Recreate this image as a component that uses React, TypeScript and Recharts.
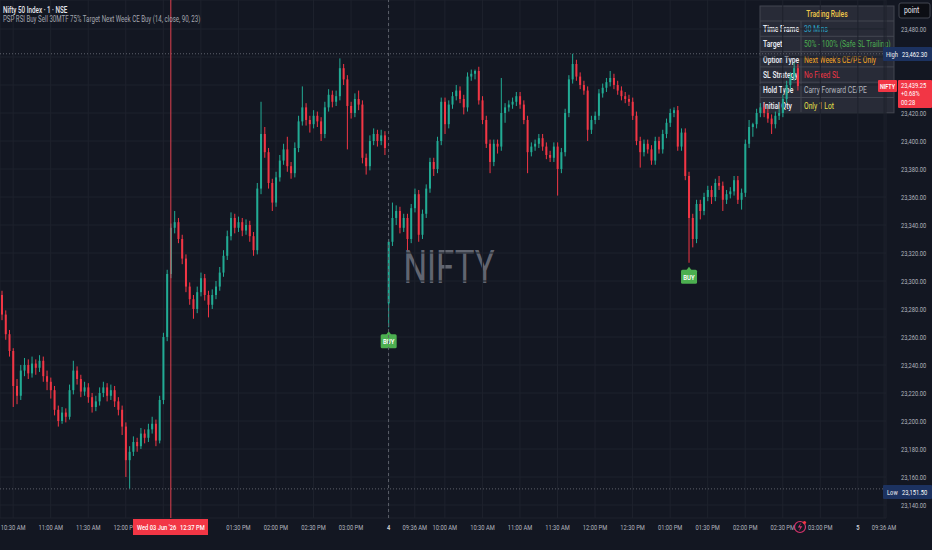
import { ComposedChart, Bar, XAxis, YAxis, CartesianGrid, ReferenceLine } from "recharts";

type Ohlc = [number, number, number, number];

// 3-minute candles, Wed 03 Jun from 10:21
const day3Candles: Ohlc[] = [
  [23290, 23293, 23272, 23276], [23276, 23279, 23258, 23262], [23262, 23265, 23246, 23250], [23250, 23252, 23210, 23225],
  [23225, 23230, 23212, 23218], [23218, 23240, 23215, 23236], [23236, 23245, 23232, 23240], [23240, 23244, 23230, 23234],
  [23234, 23246, 23231, 23241], [23241, 23244, 23233, 23238], [23238, 23247, 23235, 23243], [23243, 23246, 23228, 23232],
  [23232, 23236, 23222, 23228], [23228, 23231, 23216, 23222], [23222, 23225, 23204, 23208], [23208, 23211, 23196, 23200],
  [23200, 23210, 23198, 23206], [23206, 23209, 23199, 23203], [23203, 23226, 23201, 23222], [23222, 23243, 23219, 23236],
  [23236, 23239, 23226, 23230], [23230, 23233, 23217, 23221], [23221, 23228, 23218, 23224], [23224, 23227, 23213, 23217],
  [23217, 23220, 23206, 23210], [23210, 23218, 23207, 23214], [23214, 23224, 23211, 23220], [23220, 23228, 23217, 23224],
  [23224, 23227, 23214, 23218], [23218, 23226, 23215, 23222], [23222, 23225, 23210, 23214], [23214, 23217, 23204, 23208],
  [23208, 23211, 23190, 23196], [23196, 23199, 23160, 23172], [23172, 23182, 23151.5, 23178], [23178, 23189, 23175, 23185],
  [23185, 23188, 23178, 23182], [23182, 23195, 23180, 23191], [23191, 23194, 23184, 23188], [23188, 23198, 23185, 23194],
  [23194, 23203, 23191, 23198], [23198, 23201, 23182, 23186], [23186, 23218, 23184, 23215], [23215, 23263, 23212, 23260],
  [23260, 23308, 23257, 23305], [23305, 23341, 23302, 23338], [23338, 23350, 23334, 23342], [23342, 23345, 23327, 23330],
  [23330, 23333, 23312, 23316], [23316, 23319, 23292, 23296], [23296, 23299, 23283, 23287], [23287, 23290, 23273, 23280],
  [23280, 23296, 23277, 23292], [23292, 23306, 23289, 23302], [23302, 23305, 23286, 23290], [23290, 23293, 23274, 23283],
  [23283, 23294, 23280, 23290], [23290, 23300, 23287, 23296], [23296, 23310, 23293, 23306], [23306, 23322, 23303, 23318],
  [23318, 23336, 23315, 23332], [23332, 23349, 23329, 23345], [23345, 23348, 23334, 23338], [23338, 23346, 23335, 23342],
  [23342, 23345, 23332, 23336], [23336, 23344, 23333, 23340], [23340, 23343, 23328, 23332], [23332, 23335, 23318, 23322],
  [23322, 23370, 23319, 23366], [23366, 23428, 23362, 23405], [23405, 23410, 23388, 23392], [23392, 23395, 23366, 23370],
  [23370, 23373, 23350, 23356], [23356, 23378, 23353, 23374], [23374, 23390, 23371, 23386], [23386, 23398, 23383, 23394],
  [23394, 23403, 23378, 23382], [23382, 23385, 23373, 23377], [23377, 23399, 23374, 23395], [23395, 23418, 23392, 23414],
  [23414, 23439, 23411, 23424], [23424, 23427, 23411, 23415], [23415, 23418, 23406, 23412], [23412, 23422, 23409, 23418],
  [23418, 23421, 23410, 23414], [23414, 23417, 23400, 23405], [23405, 23428, 23402, 23424], [23424, 23437, 23421, 23433],
  [23433, 23436, 23424, 23428], [23428, 23436, 23425, 23432], [23432, 23459, 23429, 23452], [23452, 23455, 23440, 23444],
  [23444, 23447, 23394, 23425], [23425, 23428, 23416, 23420], [23420, 23434, 23417, 23430], [23430, 23436, 23422, 23426],
  [23426, 23429, 23384, 23388], [23388, 23391, 23376, 23382], [23382, 23404, 23379, 23400], [23400, 23409, 23397, 23405],
  [23405, 23408, 23396, 23400], [23400, 23408, 23397, 23404], [23404, 23407, 23390, 23395],
];

// 3-minute candles, Thu 04 Jun from 09:15
const day4Candles: Ohlc[] = [
  [23284, 23330, 23267, 23328], [23328, 23356, 23325, 23345], [23345, 23354, 23340, 23350], [23350, 23353, 23334, 23338],
  [23338, 23348, 23335, 23345], [23345, 23348, 23322, 23330], [23330, 23355, 23327, 23352], [23352, 23366, 23349, 23362],
  [23362, 23365, 23328, 23333], [23333, 23351, 23330, 23348], [23348, 23369, 23345, 23366], [23366, 23388, 23363, 23385],
  [23385, 23388, 23375, 23380], [23380, 23403, 23377, 23400], [23400, 23431, 23397, 23428], [23428, 23431, 23405, 23412],
  [23412, 23429, 23409, 23426], [23426, 23435, 23423, 23432], [23432, 23440, 23429, 23436], [23436, 23439, 23427, 23430],
  [23430, 23433, 23419, 23424], [23424, 23449, 23421, 23446], [23446, 23451, 23443, 23448], [23448, 23451, 23444, 23450],
  [23450, 23453, 23426, 23429], [23429, 23432, 23412, 23415], [23415, 23418, 23395, 23398], [23398, 23401, 23377, 23385],
  [23385, 23401, 23382, 23398], [23398, 23401, 23391, 23396], [23396, 23445, 23393, 23420], [23420, 23427, 23413, 23424],
  [23424, 23429, 23421, 23426], [23426, 23431, 23423, 23428], [23428, 23435, 23425, 23432], [23432, 23435, 23423, 23426],
  [23426, 23429, 23412, 23415], [23415, 23418, 23377, 23392], [23392, 23399, 23389, 23396], [23396, 23401, 23393, 23398],
  [23398, 23405, 23395, 23402], [23402, 23405, 23393, 23396], [23396, 23399, 23387, 23390], [23390, 23393, 23385, 23388],
  [23388, 23399, 23385, 23396], [23396, 23399, 23361, 23380], [23380, 23395, 23377, 23392], [23392, 23423, 23389, 23420],
  [23420, 23447, 23417, 23444], [23444, 23462.3, 23441, 23455], [23455, 23458, 23443, 23446], [23446, 23449, 23437, 23440],
  [23440, 23443, 23433, 23436], [23436, 23439, 23400, 23408], [23408, 23418, 23405, 23415], [23415, 23421, 23412, 23418],
  [23418, 23437, 23415, 23434], [23434, 23441, 23431, 23438], [23438, 23445, 23435, 23442], [23442, 23450, 23439, 23445],
  [23445, 23448, 23437, 23440], [23440, 23443, 23433, 23436], [23436, 23439, 23429, 23432], [23432, 23435, 23427, 23430],
  [23430, 23433, 23425, 23428], [23428, 23431, 23415, 23418], [23418, 23421, 23397, 23400], [23400, 23403, 23381, 23392],
  [23392, 23401, 23389, 23398], [23398, 23401, 23391, 23394], [23394, 23397, 23383, 23386], [23386, 23403, 23383, 23400],
  [23400, 23403, 23391, 23394], [23394, 23408, 23391, 23405], [23405, 23416, 23402, 23413], [23413, 23423, 23410, 23420],
  [23420, 23424, 23417, 23422], [23422, 23425, 23393, 23396], [23396, 23409, 23393, 23406], [23406, 23409, 23372, 23375],
  [23375, 23378, 23313, 23345], [23345, 23348, 23324, 23330], [23330, 23358, 23327, 23355], [23355, 23358, 23344, 23350],
  [23350, 23363, 23347, 23360], [23360, 23368, 23357, 23365], [23365, 23368, 23355, 23360], [23360, 23373, 23357, 23370],
  [23370, 23375, 23365, 23368], [23368, 23371, 23350, 23358], [23358, 23365, 23355, 23362], [23362, 23367, 23359, 23364],
  [23364, 23375, 23361, 23372], [23372, 23375, 23355, 23358], [23358, 23366, 23351, 23363], [23363, 23401, 23360, 23398],
  [23398, 23415, 23395, 23410], [23410, 23413, 23403, 23412], [23412, 23423, 23409, 23420], [23420, 23427, 23417, 23424],
  [23424, 23427, 23417, 23420], [23420, 23423, 23413, 23416], [23416, 23419, 23405, 23412], [23412, 23421, 23409, 23418],
  [23418, 23423, 23415, 23420], [23420, 23433, 23417, 23430], [23430, 23443, 23427, 23440], [23440, 23449, 23437, 23446],
  [23446, 23456, 23443, 23452], [23452, 23455, 23436, 23439.25],
];

const barMinutes = 3;
const day4EmptySlots = 15;
const day5EmptySlots = 8;
const buySignals = ["4-09:15", "4-13:15"];
const crosshairKey = "3-12:36";
const dayBreakKey = "4-09:15";

const xTicks = [
  "3-10:30", "3-11:00", "3-11:30", "3-12:00", "3-12:30", "3-13:00", "3-13:30", "3-14:00", "3-14:30", "3-15:00",
  "4-09:15", "4-09:36", "4-10:00", "4-10:30", "4-11:00", "4-11:30", "4-12:00", "4-12:30", "4-13:00", "4-13:30",
  "4-14:00", "4-14:30", "4-15:00", "5-09:15", "5-09:36",
];
// time labels that sit under the crosshair date box
const hiddenTimeTicks = ["3-12:30", "3-13:00"];
const yTicks = [
  23140, 23160, 23180, 23200, 23220, 23240, 23260, 23280, 23300,
  23320, 23340, 23360, 23380, 23400, 23420, 23440, 23460, 23480,
];
// price labels that sit under the High / last-price boxes
const hiddenPriceTicks = [23440, 23460];
const rangeHigh = 23462.3;
const rangeLow = 23151.5;
const lastPrice = "23,439.25";
const lastChange = "+0.68%";
const countdown = "00:28";

const tableTitle = "Trading Rules";
const tableRows: [string, string, string][] = [
  ["Time Frame", "30 Mins", "#2aa7c9"],
  ["Target", "50% - 100% (Safe SL Trailing)", "#4caf50"],
  ["Option Type", "Next Week's CE/PE Only", "#f5a623"],
  ["SL Strategy", "No Fixed SL", "#f23645"],
  ["Hold Type", "Carry Forward CE/PE", "#b2b5be"],
  ["Initial Qty", "Only 1 Lot", "#e8e04a"],
];

const FONT = "Roboto, 'Noto Sans', sans-serif";
const BG = "#131722";
const UP = "#22ab94";
const DOWN = "#f23645";

const pad = (n: number) => String(n).padStart(2, "0");
const keyOf = (day: number, min: number) => `${day}-${pad(Math.floor(min / 60))}:${pad(min % 60)}`;

const rows: any[] = [];
const addDay = (day: number, start: number, candles: Ohlc[], empty: number) => {
  candles.forEach(([o, h, l, c], i) => {
    const key = keyOf(day, start + i * barMinutes);
    rows.push({ key, o, h, l, c, range: [l, h], buy: buySignals.includes(key) });
  });
  for (let j = 0; j < empty; j++) {
    rows.push({ key: keyOf(day, start + (candles.length + j) * barMinutes) });
  }
};
addDay(3, 10 * 60 + 21, day3Candles, 0);
addDay(4, 9 * 60 + 15, day4Candles, day4EmptySlots);
addDay(5, 9 * 60 + 15, [], day5EmptySlots);

const timeLabel = (key: string) => {
  const [d, t] = key.split("-");
  if (t === "09:15") return d;
  const [hh, mm] = t.split(":").map(Number);
  const h12 = hh > 12 ? hh - 12 : hh;
  return `${pad(h12)}:${pad(mm)} ${hh >= 12 ? "PM" : "AM"}`;
};

const Txt = ({ x, y, size = 8, fill = "#d1d4dc", weight = 400, anchor = "start", sx = 0.72, children }: any) => (
  <g transform={`translate(${x} ${y}) scale(${sx} 1)`}>
    <text fontSize={size} fill={fill} fontWeight={weight} textAnchor={anchor} fontFamily={FONT}>
      {children}
    </text>
  </g>
);

const TimeTick = ({ x, payload }: any) => {
  if (hiddenTimeTicks.includes(payload.value)) return <g />;
  const label = timeLabel(payload.value);
  const dayMark = label.length === 1;
  return <Txt x={x} y={530} anchor="middle" fill={dayMark ? "#d1d4dc" : "#b2b5be"} weight={dayMark ? 600 : 400}>{label}</Txt>;
};

const PriceTick = ({ y, payload }: any) => {
  if (hiddenPriceTicks.includes(payload.value)) return <g />;
  return (
    <Txt x={901} y={y + 3} fill="#b2b5be">
      {Number(payload.value).toLocaleString("en-US", { minimumFractionDigits: 2 })}
    </Txt>
  );
};

const Candle = (props: any) => {
  const { x, y, width, height, payload } = props;
  if (!payload || payload.o === undefined) return null;
  const { o, h, l, c, buy } = payload;
  const top = Math.min(y, y + height);
  const span = Math.abs(height);
  const k = h > l ? span / (h - l) : 0;
  const py = (v: number) => top + (h - v) * k;
  const cx = x + width / 2;
  const col = c >= o ? UP : DOWN;
  const bTop = py(Math.max(o, c));
  const bH = Math.max(1, py(Math.min(o, c)) - bTop);
  const lowY = py(l);
  return (
    <g>
      <line x1={cx} x2={cx} y1={top} y2={lowY} stroke={col} strokeWidth={1} />
      <rect x={x} y={bTop} width={width} height={bH} fill={col} />
      {buy && (
        <g>
          <path d={`M${cx - 3},${lowY + 8} L${cx},${lowY + 4} L${cx + 3},${lowY + 8} Z`} fill="#4caf50" />
          <rect x={cx - 8} y={lowY + 7} width={16} height={14} rx={1.5} fill="#4caf50" />
          <Txt x={cx} y={lowY + 17} anchor="middle" size={7.5} fill="#ffffff" weight={600} sx={0.8}>BUY</Txt>
        </g>
      )}
    </g>
  );
};

const Bolt = () => (
  <g>
    <circle cx={800} cy={527} r={5.5} fill="none" stroke="#d6336c" strokeWidth={1.2} />
    <path d="M801,522.8 L797.8,527.6 L800.2,527.6 L799,531.2 L802.3,526.3 L799.9,526.3 Z" fill="#d6336c" />
    <circle cx={804.5} cy={522.5} r={1.6} fill="#f23645" />
  </g>
);

export default function App() {
  const tX = 760;
  const tW = 134;
  const colX = 801;
  const headH = 15;
  const rowH = 15.3;
  return (
    <div style={{ position: "absolute", left: 0, top: 0, width: 932, height: 550, background: BG, overflow: "hidden" }}>
      <svg width={932} height={550} style={{ position: "absolute", left: 0, top: 0 }}>
        <g transform="translate(449 283) scale(0.72 1)">
          <text textAnchor="middle" fontSize={46} fill="#787b86" fillOpacity={0.8} fontFamily={FONT} fontWeight={400}>
            NIFTY
          </text>
        </g>
        <rect x={tX} y={6} width={tW} height={headH + rowH * tableRows.length} fill="#2a2e39" fillOpacity={0.92} stroke="#434651" strokeWidth={1} />
        <Txt x={tX + tW / 2} y={17} anchor="middle" size={9} fill="#f0c94a" weight={500} sx={0.75}>{tableTitle}</Txt>
        <line x1={colX} x2={colX} y1={6 + headH} y2={6 + headH + rowH * tableRows.length} stroke="#434651" />
        {tableRows.map(([label, value, color], i) => {
          const ry = 6 + headH + rowH * i;
          return (
            <g key={label}>
              <line x1={tX} x2={tX + tW} y1={ry} y2={ry} stroke="#434651" />
              <Txt x={tX + 3} y={ry + 11} size={9} fill="#e6e8ee" weight={600} sx={0.75}>{label}</Txt>
              <Txt x={colX + 3} y={ry + 11} size={9} fill={color} sx={0.75}>{value}</Txt>
            </g>
          );
        })}
      </svg>

      <div style={{ position: "absolute", left: 0, top: 0 }}>
        <ComposedChart width={932} height={550} data={rows} margin={{ top: 0, right: 0, bottom: 0, left: 0 }}>
          <CartesianGrid stroke="#1e222d" strokeWidth={1} />
          <XAxis
            dataKey="key"
            ticks={xTicks}
            interval={0}
            height={32}
            axisLine={false}
            tickLine={false}
            tick={<TimeTick />}
          />
          <YAxis
            orientation="right"
            width={46}
            domain={[23130.7, 23500.7]}
            allowDataOverflow
            ticks={yTicks}
            axisLine={false}
            tickLine={false}
            tick={<PriceTick />}
          />
          <ReferenceLine y={rangeHigh} stroke="#5d606b" strokeDasharray="1 2" />
          <ReferenceLine y={rangeLow} stroke="#5d606b" strokeDasharray="1 2" />
          <ReferenceLine x={dayBreakKey} stroke="#5d606b" strokeDasharray="3 3" />
          <ReferenceLine x={crosshairKey} stroke="#e0414f" strokeWidth={1} />
          <Bar dataKey="range" barSize={2} isAnimationActive={false} shape={(p: any) => <Candle {...p} />} />
        </ComposedChart>
      </div>

      <svg width={932} height={550} style={{ position: "absolute", left: 0, top: 0, pointerEvents: "none" }}>
        <Txt x={3} y={13} size={9} fill="#e6e8ee" weight={500} sx={0.7}>Nifty 50 Index · 1 · NSE</Txt>
        <Txt x={3} y={22} size={9} fill="#a3a6af" sx={0.68}>PSP RSI Buy Sell 30MTF 75% Target Next Week CE Buy (14, close, 90, 23)</Txt>

        <rect x={899} y={3} width={31} height={15} rx={2} fill="#0c0e14" stroke="#434651" />
        <Txt x={904} y={13} size={8.5} fill="#e6e8ee" sx={0.8}>point</Txt>

        <rect x={883} y={47} width={49} height={14} rx={1} fill="#1c3260" />
        <Txt x={886} y={57} fill="#d1d4dc" weight={500}>High</Txt>
        <Txt x={902} y={57} fill="#ffffff">23,462.30</Txt>

        <rect x={878} y={80} width={19} height={12} rx={1} fill={DOWN} />
        <Txt x={880} y={89} fill="#ffffff" size={7.5} weight={600}>NIFTY</Txt>
        <rect x={898} y={80} width={34} height={28} rx={1} fill={DOWN} />
        <Txt x={901} y={88} fill="#ffffff">{lastPrice}</Txt>
        <Txt x={901} y={96} fill="#ffffff">{lastChange}</Txt>
        <Txt x={901} y={105} fill="#ffffff">{countdown}</Txt>

        <rect x={883} y={485} width={49} height={14} rx={1} fill="#1c3260" />
        <Txt x={887} y={495} fill="#d1d4dc" weight={500}>Low</Txt>
        <Txt x={902} y={495} fill="#ffffff">23,151.50</Txt>

        <rect x={133} y={519} width={75} height={16} fill={DOWN} />
        <Txt x={137} y={530} fill="#ffffff" weight={500}>Wed 03 Jun '26</Txt>
        <Txt x={180} y={530} fill="#ffffff" weight={500}>12:37 PM</Txt>

        <Bolt />
      </svg>
    </div>
  );
}
